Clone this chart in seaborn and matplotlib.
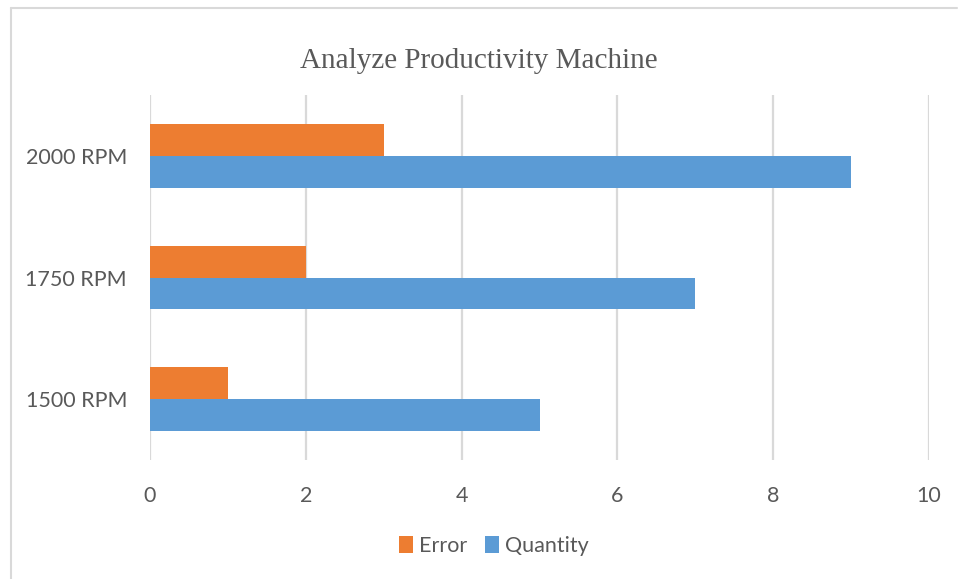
import matplotlib
matplotlib.use("Agg")
import matplotlib.pyplot as plt
from matplotlib.lines import Line2D
from matplotlib.patches import Patch
import seaborn as sns
import pandas as pd

# Chart data
categories = ["2000 RPM", "1750 RPM", "1500 RPM"]
error_values = [3, 2, 1]
quantity_values = [9, 7, 5]
series_names = ["Error", "Quantity"]
x_ticks = [0, 2, 4, 6, 8, 10]

colors = {"Error": "#ED7D31", "Quantity": "#5B9BD5"}
text_color = "#595959"
grid_color = "#D9D9D9"

df = pd.DataFrame({
    "Speed": categories * 2,
    "Series": [series_names[0]] * len(categories) + [series_names[1]] * len(categories),
    "Value": error_values + quantity_values,
})

sns.set_theme(style="white")
plt.rcParams["font.family"] = ["Lato", "DejaVu Sans"]

fig = plt.figure(figsize=(9.58, 5.79), dpi=100)
ax = fig.add_axes([150 / 958, 1 - 460 / 579, (929 - 150) / 958, (460 - 95) / 579])

sns.barplot(
    data=df, x="Value", y="Speed", hue="Series",
    order=categories, hue_order=series_names,
    palette=colors, orient="h", width=0.526, gap=0,
    saturation=1, errorbar=None, ax=ax, legend=False, linewidth=0,
)

ax.set_xlim(0, 10)
ax.set_xticks(x_ticks)
ax.set_xticklabels([str(t) for t in x_ticks])
ax.set_xlabel("")
ax.set_ylabel("")
ax.set_axisbelow(True)
ax.grid(axis="x", color=grid_color, linewidth=1.6)
ax.grid(axis="y", visible=False)
for s in ax.spines.values():
    s.set_visible(False)
ax.tick_params(axis="x", length=0, pad=19, labelsize=15.5, labelcolor=text_color)
ax.tick_params(axis="y", length=0, pad=16.5, labelsize=15.5, labelcolor=text_color)

fig.text(0.5, 1 - 61 / 579, "Analyze Productivity Machine",
         ha="center", va="center", fontsize=21, color=text_color,
         family=["Liberation Serif", "DejaVu Serif"])

handles = [Patch(facecolor=colors[n], edgecolor="none") for n in series_names]
fig.legend(handles, series_names, loc="center", bbox_to_anchor=(494 / 958, 1 - 546 / 579),
           ncol=2, frameon=False, fontsize=15.5, labelcolor=text_color,
           handlelength=0.65, handleheight=0.85, handletextpad=0.3, columnspacing=0.8)

# Outer chart frame (left and top edges)
fig.add_artist(Line2D([10.5 / 958, 10.5 / 958], [0, 1 - 8 / 579],
                      transform=fig.transFigure, color="#D9D9D9", linewidth=1.5))
fig.add_artist(Line2D([10.5 / 958, 957 / 958], [1 - 8 / 579, 1 - 8 / 579],
                      transform=fig.transFigure, color="#D9D9D9", linewidth=1.5))

fig.savefig("out.png", dpi=100, facecolor="white")
